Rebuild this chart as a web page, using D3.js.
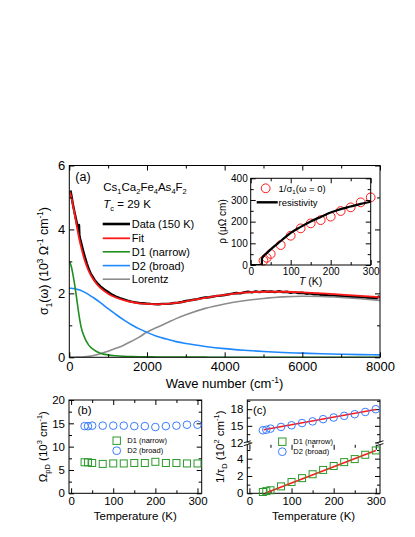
<!DOCTYPE html>
<html><head><meta charset="utf-8">
<script src="https://cdn.jsdelivr.net/npm/d3@7"></script>
<style>body{margin:0;background:#fff}svg{display:block}text{font-family:"Liberation Sans",Arial,sans-serif;fill:#000}</style>
</head><body><svg id="c" width="415" height="537"></svg>
<script>
// ---------- panel (a) data ----------
const omega = [0,50,100,150,200,250,300,400,500,600,700,800,1000,1200,1400,1600,1800,2000,2250,2500,2750,3000,3500,4000,4500,5000,5500,6000,6500,7000,7500,8000];
const fitSigma = [5.19,5.02,4.72,4.40,4.05,3.74,3.47,3.02,2.70,2.47,2.30,2.17,1.99,1.87,1.79,1.73,1.69,1.67,1.66,1.67,1.70,1.75,1.86,1.95,2.02,2.05,2.05,2.03,2.00,1.96,1.92,1.88];
const d1Sigma = [3.0,2.85,2.55,2.18,1.75,1.32,0.97,0.6,0.38,0.26,0.18,0.13,0.075,0.048,0.033,0.024,0.018,0.014,0.011,0.009,0.007,0.006,0.004,0.003,0.003,0.002,0.002,0.002,0.002,0.002,0.002,0.002];
const d2Sigma = [2.16,2.16,2.15,2.14,2.13,2.11,2.09,2.03,1.96,1.88,1.80,1.71,1.52,1.34,1.17,1.02,0.89,0.78,0.66,0.57,0.49,0.43,0.34,0.27,0.22,0.18,0.15,0.13,0.11,0.095,0.085,0.075];
const lorSigma = [0,0,0.001,0.002,0.004,0.006,0.009,0.016,0.03,0.05,0.08,0.11,0.19,0.28,0.38,0.50,0.63,0.79,0.93,1.07,1.21,1.33,1.53,1.67,1.77,1.84,1.89,1.91,1.90,1.87,1.83,1.78];
const dataWn = [30,60,90,120,150,180,210,230,250,260,280,310,350,400,450,500,550,600,650,700,750,800,900,1000,1100,1200,1300,1400,1500,1600,1700,1800,1900,2000,2100,2200,2300,2400,2500,2600,2700,2800,2900,3000,3100,3200,3300,3400,3500,3600,3700,3800,3900,4000,4100,4200,4300,4400,4500,4600,4700,4800,4900,5000,5100,5200,5300,5400,5500,5600,5700,5800,5900,6000,6100,6200,6300,6400,6500,6600,6700,6800,6900,7000,7100,7200,7300,7400,7500,7600,7700,7800,7900,7960,8000];
const dataSigma = [5.22,5.02,4.80,4.62,4.44,4.28,4.10,4.02,4.14,3.82,3.70,3.56,3.36,3.14,2.94,2.76,2.62,2.52,2.42,2.35,2.28,2.22,2.12,2.04,1.96,1.90,1.85,1.81,1.77,1.74,1.72,1.70,1.69,1.68,1.67,1.665,1.66,1.67,1.67,1.68,1.70,1.71,1.73,1.76,1.78,1.80,1.82,1.85,1.87,1.88,1.90,1.92,1.93,1.95,1.97,1.99,2.01,2.00,2.03,2.05,2.03,2.06,2.04,2.07,2.05,2.06,2.04,2.07,2.04,2.05,2.02,2.04,2.01,2.02,1.99,2.00,1.97,1.98,1.95,1.96,1.93,1.94,1.91,1.92,1.90,1.91,1.88,1.89,1.87,1.88,1.85,1.86,1.84,1.90,1.86];
// ---------- inset data ----------
const resT = [0,28,28,40,50,60,70,80,100,125,150,175,200,225,250,275,300];
const resRho = [0,0,30,55,72,88,103,118,148,176,201,222,242,258,270,282,292];
const temps = [32,40,50,75,100,125,150,175,200,225,250,275,300];
const rhoDC = [20,33,51,92,135,169,192,207,223,249,266,289,312];
// ---------- panel (b),(c) data ----------
const wpD1 = [6.65,6.65,6.5,6.3,6.4,6.4,6.5,6.5,6.75,6.5,6.5,6.4,6.4];
const wpD2 = [14.4,14.4,14.5,14.5,14.5,14.5,14.4,14.4,14.2,14.4,14.5,14.7,14.7];
const gD1 = [0.15,0.25,0.35,0.8,1.3,1.75,2.2,2.7,3.15,3.6,3.95,4.45,4.95];
const gD2 = [14.2,14.3,14.5,14.8,15.1,15.5,15.8,16.2,16.5,16.8,17.1,17.5,18.0];
const fitD1T = [37,300], fitD1 = [0.0,4.95];
const fitD2T = [34,300], fitD2 = [14.3,17.95];

const C = {red:"#ff1a1a", green:"#1f8f1f", blue:"#1e88ff", gray:"#8c8c8c", mGreen:"#2a9a2a", mBlue:"#3a7bff"};
const svg = d3.select("#c");

function rich(t, parts, fs){
  let shift = 0;
  parts.forEach(([s,m])=>{
    const target = m==="sub" ? 0.28*fs : m==="sup" ? -0.4*fs : 0;
    const ts = t.append("tspan").text(s).attr("dy", (target-shift).toFixed(2));
    if(m==="sub"||m==="sup") ts.attr("font-size", (fs*0.65).toFixed(2));
    if(m==="it") ts.attr("font-style","italic");
    shift = target;
  });
  return t;
}
function frame(x0,y0,x1,y1){
  svg.append("rect").attr("x",x0).attr("y",y0).attr("width",x1-x0).attr("height",y1-y0)
    .attr("fill","none").attr("stroke","#000").attr("stroke-width",1);
}
function axes(x, y, xMaj, xMin, yMaj, yMin, fs, xFmt, yFmt, opts={}){
  const [x0,x1] = x.range(), [y0,y1] = y.range();
  const g = svg.append("g");
  const pad = opts.pad ?? 4;
  const put = (axis, tx, ty) => {
    const a = g.append("g").attr("transform",`translate(${tx},${ty})`).call(axis);
    a.select(".domain").remove();
    a.selectAll("text").attr("font-size",fs).attr("font-family",'"Liberation Sans",Arial,sans-serif').attr("fill","#000");
    return a;
  };
  put(d3.axisBottom(x).tickValues(xMaj).tickSize(-5).tickPadding(pad).tickFormat(xFmt), 0, y0);
  put(d3.axisBottom(x).tickValues(xMin).tickSize(-3).tickFormat(""), 0, y0);
  put(d3.axisTop(x).tickValues(xMaj).tickSize(-5).tickFormat(""), 0, y1);
  put(d3.axisTop(x).tickValues(xMin).tickSize(-3).tickFormat(""), 0, y1);
  if(!opts.noY){
    put(d3.axisLeft(y).tickValues(yMaj).tickSize(-5).tickPadding(pad).tickFormat(yFmt), x0, 0);
    put(d3.axisLeft(y).tickValues(yMin).tickSize(-3).tickFormat(""), x0, 0);
    put(d3.axisRight(y).tickValues(yMaj).tickSize(-5).tickFormat(""), x1, 0);
    put(d3.axisRight(y).tickValues(yMin).tickSize(-3).tickFormat(""), x1, 0);
  }
  g.selectAll("line").attr("stroke","#000").attr("stroke-width",1);
}
const fmt = d3.format("d");

// ================= panel (a) =================
const xA = d3.scaleLinear([0,8000],[69.3,380]);
const yA = d3.scaleLinear([0,6],[357.3,165.5]);
svg.append("clipPath").attr("id","clipA").append("rect").attr("x",69.3).attr("y",165.5).attr("width",310.7).attr("height",191.8);
const gA = svg.append("g").attr("clip-path","url(#clipA)");
const lineA = (ys)=>d3.line().x((d,i)=>xA(omega[i])).y((d,i)=>yA(ys[i])).curve(d3.curveMonotoneX)(ys);
gA.append("path").attr("d", d3.line().x((d,i)=>xA(dataWn[i])).y((d,i)=>yA(dataSigma[i]))(dataSigma))
  .attr("fill","none").attr("stroke","#000").attr("stroke-width",2.4).attr("stroke-linejoin","round");
gA.append("path").attr("d", lineA(lorSigma)).attr("fill","none").attr("stroke",C.gray).attr("stroke-width",1.6);
gA.append("path").attr("d", lineA(d2Sigma)).attr("fill","none").attr("stroke",C.blue).attr("stroke-width",1.6);
gA.append("path").attr("d", lineA(d1Sigma)).attr("fill","none").attr("stroke",C.green).attr("stroke-width",1.6);
gA.append("path").attr("d", lineA(fitSigma)).attr("fill","none").attr("stroke",C.red).attr("stroke-width",1.8);
frame(69.3,165.5,380,357.3);
axes(xA,yA,[0,2000,4000,6000,8000],[1000,3000,5000,7000],[0,2,4,6],[1,3,5],13,fmt,fmt);

svg.append("text").attr("x",83).attr("y",181).attr("text-anchor","middle").attr("font-size",12.5).text("(a)");
rich(svg.append("text").attr("x",103.3).attr("y",190.5).attr("font-size",11.5),
  [["Cs",""],["1","sub"],["Ca",""],["2","sub"],["Fe",""],["4","sub"],["As",""],["4","sub"],["F",""],["2","sub"]],11.5);
rich(svg.append("text").attr("x",103.3).attr("y",207.5).attr("font-size",11.5),
  [["T","it"],["c","sub"],[" = 29 K",""]],11.5);
const legA = [["Data (150 K)","#000",2.6],["Fit",C.red,1.8],["D1 (narrow)",C.green,1.6],["D2 (broad)",C.blue,1.6],["Lorentz",C.gray,1.6]];
const legY = [224,238.3,251.8,265.6,279.2];
legA.forEach((d,i)=>{
  svg.append("line").attr("x1",102.7).attr("x2",130).attr("y1",legY[i]).attr("y2",legY[i]).attr("stroke",d[1]).attr("stroke-width",d[2]);
  svg.append("text").attr("x",131.8).attr("y",legY[i]+4).attr("font-size",11).text(d[0]);
});
svg.append("text").attr("x",224.5).attr("y",388).attr("text-anchor","middle").attr("font-size",13).text("Wave number (cm").call(t=>rich(t,[["-1","sup"],[")",""]],13));
rich(svg.append("text").attr("transform","translate(48,261) rotate(-90)").attr("text-anchor","middle").attr("font-size",12.5),
  [["σ",""],["1","sub"],["(ω) (10",""],["3","sup"],[" Ω",""],["-1","sup"],[" cm",""],["-1","sup"],[")",""]],12.5);

// ---------- inset ----------
const xI = d3.scaleLinear([0,300],[250.7,370.7]);
const yI = d3.scaleLinear([0,400],[265,178.3]);
svg.append("rect").attr("x",250.7).attr("y",178.3).attr("width",120).attr("height",86.7).attr("fill","#fff");
svg.append("clipPath").attr("id","clipI").append("rect").attr("x",250.7).attr("y",178.3).attr("width",120).attr("height",86.7);
const gI = svg.append("g");
gI.selectAll("circle.r").data(rhoDC).join("circle").attr("cx",(d,i)=>xI(temps[i])).attr("cy",d=>yI(d)).attr("r",4.4)
  .attr("fill","none").attr("stroke",C.red).attr("stroke-width",1);
gI.append("path").attr("clip-path","url(#clipI)").attr("d", d3.line().x((d,i)=>xI(resT[i])).y((d,i)=>yI(resRho[i])).curve(d3.curveMonotoneX)(resRho))
  .attr("fill","none").attr("stroke","#000").attr("stroke-width",2.2);
frame(250.7,178.3,370.7,265);
axes(xI,yI,[0,100,200,300],[50,150,250],[0,100,200,300,400],[50,150,250,350],10,fmt,fmt,{pad:3});
svg.append("circle").attr("cx",265.7).attr("cy",188.3).attr("r",4.4).attr("fill","none").attr("stroke",C.red).attr("stroke-width",1);
rich(svg.append("text").attr("x",278.5).attr("y",191.8).attr("font-size",9.5),
  [["1/σ",""],["1","sub"],["(ω = 0)",""]],9.5);
svg.append("line").attr("x1",256.7).attr("x2",277.7).attr("y1",202.3).attr("y2",202.3).attr("stroke","#000").attr("stroke-width",2.4);
svg.append("text").attr("x",278.5).attr("y",205.6).attr("font-size",9.5).text("resistivity");
rich(svg.append("text").attr("x",310.7).attr("y",285).attr("text-anchor","middle").attr("font-size",10.5),
  [["T","it"],[" (K)",""]],10.5);
svg.append("text").attr("transform","translate(226,221.5) rotate(-90)").attr("text-anchor","middle").attr("font-size",10).text("ρ (μΩ cm)");

// ================= panel (b) =================
const xB = d3.scaleLinear([-5,310],[69,201.7]);
const yB = d3.scaleLinear([0,20],[493.3,400]);
frame(69,400,201.7,493.3);
axes(xB,yB,[0,100,200,300],[50,150,250],[0,5,10,15,20],[2.5,7.5,12.5,17.5],11.5,fmt,fmt);
svg.append("g").selectAll("rect").data(wpD1).join("rect").attr("x",(d,i)=>xB(temps[i])-3.5).attr("y",d=>yB(d)-3.5)
  .attr("width",7).attr("height",7).attr("fill","none").attr("stroke",C.mGreen).attr("stroke-width",1);
svg.append("g").selectAll("circle").data(wpD2).join("circle").attr("cx",(d,i)=>xB(temps[i])).attr("cy",d=>yB(d)).attr("r",3.8)
  .attr("fill","none").attr("stroke",C.mBlue).attr("stroke-width",1);
svg.append("text").attr("x",77.5).attr("y",414).attr("font-size",11.5).text("(b)");
svg.append("rect").attr("x",113).attr("y",437).attr("width",7.4).attr("height",7.4).attr("fill","none").attr("stroke",C.mGreen);
svg.append("circle").attr("cx",116.7).attr("cy",450.7).attr("r",3.9).attr("fill","none").attr("stroke",C.mBlue);
svg.append("text").attr("x",127.3).attr("y",443.4).attr("font-size",7.5).text("D1 (narrow)");
svg.append("text").attr("x",127.3).attr("y",453.4).attr("font-size",7.5).text("D2 (broad)");
svg.append("text").attr("x",135.3).attr("y",519.5).attr("text-anchor","middle").attr("font-size",11.5).text("Temperature (K)");
rich(svg.append("text").attr("transform","translate(47,446.7) rotate(-90)").attr("text-anchor","middle").attr("font-size",11.5),
  [["Ω",""],["pD","sub"],[" (10",""],["3","sup"],[" cm",""],["-1","sup"],[")",""]],11.5);

// ================= panel (c) =================
const xC = d3.scaleLinear([-5,310],[247.3,380]);
const yCl = d3.scaleLinear([0,5.6],[493.3,444.8]);
const yCu = d3.scaleLinear([12,19.6],[442.5,400.3]);
frame(247.3,400,380,493.3);
axes(xC,yCl,[0,100,200,300],[50,150,250],[0,2,4],[1,3,5],11.5,fmt,fmt,{noY:true});
[[yCl,[0,2,4],[1,3,5]],[yCu,[12,15,18],[13.5,16.5,19.5]]].forEach(([ys,maj,mn])=>{
  const g = svg.append("g");
  const put=(axis,tx)=>{const a=g.append("g").attr("transform",`translate(${tx},0)`).call(axis);a.select(".domain").remove();
    a.selectAll("text").attr("font-size",11.5).attr("font-family",'"Liberation Sans",Arial,sans-serif').attr("fill","#000");};
  put(d3.axisLeft(ys).tickValues(maj).tickSize(-5).tickPadding(4).tickFormat(fmt),247.3);
  put(d3.axisLeft(ys).tickValues(mn).tickSize(-3).tickFormat(""),247.3);
  put(d3.axisRight(ys).tickValues(maj).tickSize(-5).tickFormat(""),380);
  put(d3.axisRight(ys).tickValues(mn).tickSize(-3).tickFormat(""),380);
  g.selectAll("line").attr("stroke","#000");
});
[247.3,380].forEach(xb=>{
  svg.append("rect").attr("x",xb-1).attr("y",442.6).attr("width",2).attr("height",2).attr("fill","#fff");
  [441.8,444.6].forEach(yb=>svg.append("line").attr("x1",xb-3.5).attr("x2",xb+3.5).attr("y1",yb+1).attr("y2",yb-1).attr("stroke","#000").attr("stroke-width",0.9));
});
svg.append("path").attr("d",d3.line().x((d,i)=>xC(fitD1T[i])).y(d=>yCl(d))(fitD1)).attr("stroke",C.red).attr("stroke-width",1.6).attr("fill","none");
svg.append("path").attr("d",d3.line().x((d,i)=>xC(fitD2T[i])).y(d=>yCu(d))(fitD2)).attr("stroke",C.red).attr("stroke-width",1.6).attr("fill","none");
svg.append("g").selectAll("rect").data(gD1).join("rect").attr("x",(d,i)=>xC(temps[i])-3.5).attr("y",d=>yCl(d)-3.5)
  .attr("width",7).attr("height",7).attr("fill","none").attr("stroke",C.mGreen).attr("stroke-width",1);
svg.append("g").selectAll("circle").data(gD2).join("circle").attr("cx",(d,i)=>xC(temps[i])).attr("cy",d=>yCu(d)).attr("r",3.8)
  .attr("fill","none").attr("stroke",C.mBlue).attr("stroke-width",1);
svg.append("text").attr("x",253).attr("y",414).attr("font-size",11.5).text("(c)");
svg.append("rect").attr("x",278.6).attr("y",438).attr("width",7.4).attr("height",7.4).attr("fill","none").attr("stroke",C.mGreen);
svg.append("circle").attr("cx",282.3).attr("cy",451.7).attr("r",3.9).attr("fill","none").attr("stroke",C.mBlue);
svg.append("text").attr("x",293.3).attr("y",444.4).attr("font-size",7.5).text("D1 (narrow)");
svg.append("text").attr("x",293.3).attr("y",454.4).attr("font-size",7.5).text("D2 (broad)");
svg.append("text").attr("x",313.6).attr("y",519.5).attr("text-anchor","middle").attr("font-size",11.5).text("Temperature (K)");
rich(svg.append("text").attr("transform","translate(224,446.7) rotate(-90)").attr("text-anchor","middle").attr("font-size",11.5),
  [["1/τ",""],["D","sub"],[" (10",""],["2","sup"],[" cm",""],["-1","sup"],[")",""]],11.5);
</script></body></html>
